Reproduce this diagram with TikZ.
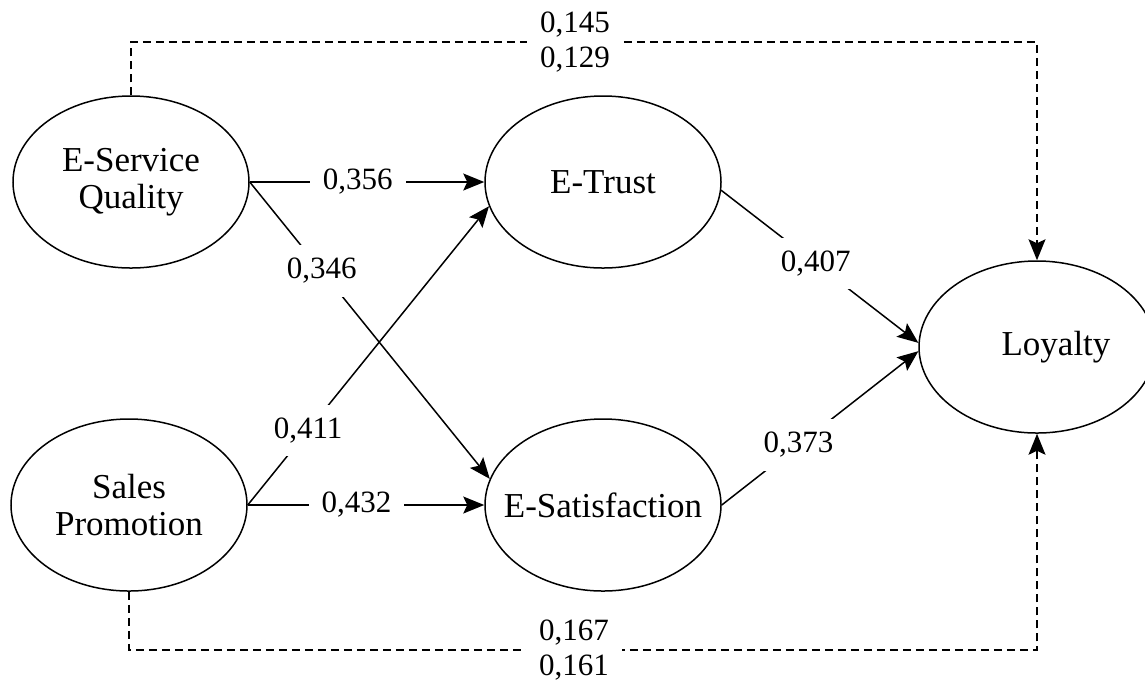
\documentclass[tikz,border=0pt]{standalone}
\usepackage{fontspec}
\setmainfont{Liberation Serif}
\usetikzlibrary{shapes,arrows.meta}

\begin{document}
\begin{tikzpicture}[x=0.5pt,y=-0.5pt]
    \tikzset{latente/.style = {shape=ellipse,draw,line width=0.75pt,minimum width=118pt,minimum height=86pt,inner sep=0pt,align=center,font=\fontsize{17.5}{18.5}\selectfont}}
    \tikzset{peso/.style = {fill=white,inner sep=6.5pt,align=center,font=\fontsize{15.5}{17.5}\selectfont}}

    \tikzset{flecha/.style = {-{Stealth[length=10.5pt,width=8.5pt,inset=2pt]},line width=0.75pt}}
    \tikzset{flechaMed/.style = {flecha,dash pattern=on 4pt off 2.5pt}}

    \useasboundingbox (0,0) rectangle (1145,682);

    \node[latente] (ESQ) at (131,182) {E-Service\\Quality};
    \node[latente] (SP) at (129,505) {Sales\\Promotion};

    \node[latente] (ETR) at (603,182) {E-Trust};
    \node[latente] (ESAT) at (603,505) {\makebox[0pt]{E-Satisfaction}};

    \node[latente] (LOY) at (1037,347) {\hspace*{19pt}Loyalty};

    \coordinate (arribaI) at (131,42);
    \coordinate (arribaD) at (1037,42);
    \coordinate (abajoI) at (129,650);
    \coordinate (abajoD) at (1037,650);

    \draw [flecha] (ESQ.east) -- node[peso,pos=0.46] {0,356} (ETR.west);
    \draw [flecha] (ESQ.east) -- node[peso,pos=0.30] {0,346} (ESAT.167);
    \draw [flecha] (SP.east) -- node[peso,pos=0.25] {0,411} (ETR.192);
    \draw [flecha] (SP.east) -- node[peso,pos=0.46] {0,432} (ESAT.west);

    \draw [flecha] (ETR.-4) -- node[peso,pos=0.48] {0,407} (LOY.178);
    \draw [flecha] (ESAT.east) -- node[peso,pos=0.39] {0,373} (LOY.182);

    % efectos directos (lineas punteadas)
    \draw [flechaMed] (ESQ.north) -- (arribaI) -- node[peso,pos=0.49] {0,145\\0,129} (arribaD) -- (LOY.north);
    \draw [flechaMed] (SP.south) -- (abajoI) -- node[peso,pos=0.49] {0,167\\0,161} (abajoD) -- (LOY.south);
\end{tikzpicture}
\end{document}
